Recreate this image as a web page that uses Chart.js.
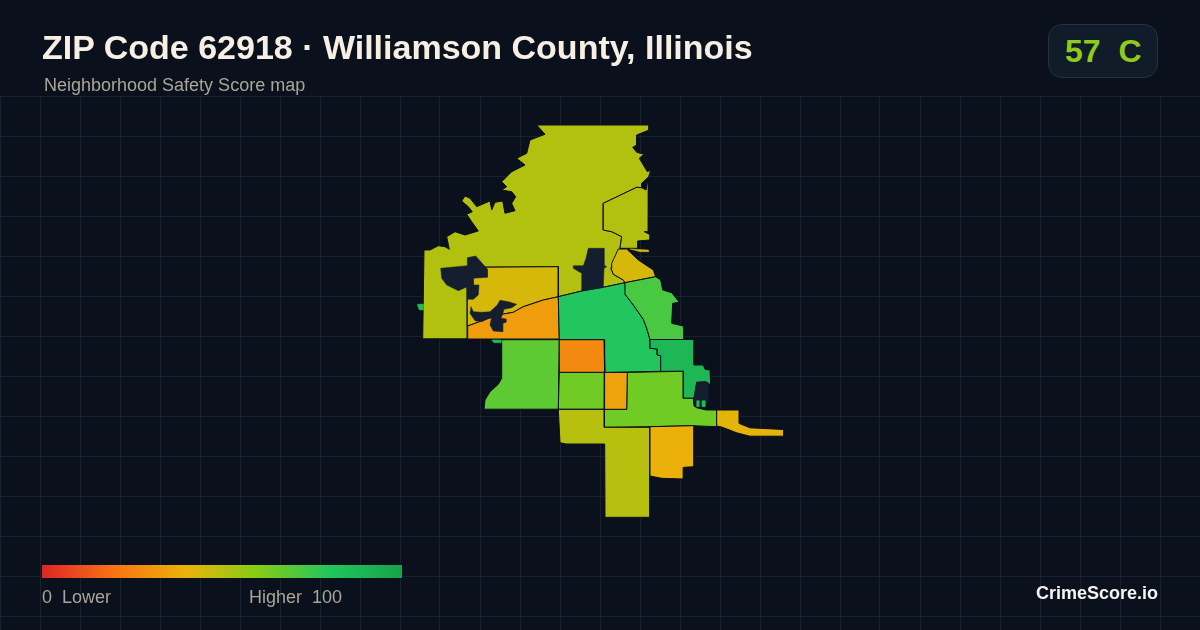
<!DOCTYPE html>
<html><head><meta charset="utf-8">
<script src="https://cdn.jsdelivr.net/npm/chart.js@4/dist/chart.umd.min.js"></script>
<style>
html,body{margin:0;padding:0;width:1200px;height:630px;overflow:hidden;background:#0a111c;font-family:"Liberation Sans",Arial,sans-serif}
#wrap{position:relative;width:1200px;height:630px}
canvas{position:absolute;left:0;top:0}
.t{position:absolute;white-space:pre;line-height:1}
#title{left:42px;top:30px;font-size:34px;font-weight:700;color:#f7efe3}
#sub{left:44px;top:76px;font-size:18px;color:#a9a598}
#badge{position:absolute;left:1048px;top:24px;width:110px;height:54px;box-sizing:border-box;background:#111c2a;border:1px solid #263242;border-radius:14px}
#grade{left:1065px;top:35px;font-size:32px;font-weight:700;color:#8ecb1a}
#bar{position:absolute;left:42px;top:565px;width:360px;height:13px}
#lo{left:42px;top:588px;font-size:18px;color:#a9a598}
#hi{left:249px;top:588px;font-size:18px;color:#a9a598}
#brand{right:42px;top:584px;font-size:18px;font-weight:700;color:#f5f5f5}
</style></head><body>
<div id="wrap">
<canvas id="c" width="1200" height="630"></canvas>
<div class="t" id="title">ZIP Code 62918 · Williamson County, Illinois</div>
<div class="t" id="sub">Neighborhood Safety Score map</div>
<div id="badge"></div><div class="t" id="grade">57  C</div>
<div id="bar"></div>
<div class="t" id="lo">0  Lower</div><div class="t" id="hi">Higher  100</div>
<div class="t" id="brand">CrimeScore.io</div>
</div>
<script>
const scoreStops=[0,20,40,60,80,100];
const scoreColors=['#dc2626','#f97316','#eab308','#84cc16','#22c55e','#16a34a'];
const noDataColor='#141e2e';
const outlineColor='#0a111c';
const gridColor='#16222e';
const gridColumns=[0,40,80,120,160,200,240,280,320,360,400,440,480,520,560,600,640,680,720,760,800,840,880,920,960,1000,1040,1080,1120,1160,1200];
const gridRows=[96,136,176,216,256,296,336,376,416,456,496,536,576,616];

const northWest=[[536.7,125],[649,125],[649,130],[636.7,135],[636.7,145],[632.7,147.3],[636.7,152.3],[644,154.3],[639.3,158.3],[643.3,165],[647.3,171.7],[650.7,170],[648.7,176.7],[641.7,183.3],[641.7,187.7],[636.7,187.3],[603.3,203.3],[603.3,230],[611.7,231.7],[621.7,236.7],[620,248.3],[611,268.3],[613.3,274.3],[623.3,280],[625,282.7],[603.3,287.3],[581.7,291],[558.3,296.7],[558.3,266.7],[467.3,267.3],[467.3,338.8],[422.7,338.8],[424,250],[430,250],[438.3,245.7],[445,246.7],[449.3,249.3],[446.7,236.7],[455,231.7],[465,235],[478.3,231],[471.7,221.7],[466.7,214.3],[472.3,211.7],[468.3,206.7],[461.7,201],[465,196],[470,198.3],[476.7,206.7],[490,201],[491.7,210],[495,202.3],[502.7,201],[505,213.3],[515,210.7],[511.7,203.3],[515.7,196.7],[511.7,191.7],[501.7,190],[506.7,186.7],[501.7,181.7],[511.7,171.7],[525,165],[516.7,158.3],[526.7,153.3],[530,140],[545,134.3]];
const northEast=[[636.7,187.3],[641.7,187.7],[646,190],[647.3,183.3],[648.7,181.7],[648.3,231.7],[644.3,231.7],[650.7,235],[650,240],[637.7,241],[637.7,248.3],[620,248.3],[621.7,236.7],[611.7,231.7],[603.3,230],[603.3,203.3]];
const ridgeTile=[[618.3,249],[626.7,249],[638.3,260],[653.3,270],[655.7,276.7],[625,282.7],[623.3,280],[613.3,274.3],[611,268.3],[611.7,263.3]];
const ridgeSliver=[[630,249],[648.3,250],[648.3,251.7],[640,251.7]];
const westBlock=[[467.3,267.3],[558.3,266.7],[558.3,296.7],[543.3,300],[523.3,306.7],[513.3,312.3],[503.3,314],[486.7,319],[467.7,326]];
const westOrange=[[467.7,326],[486.7,319],[503.3,314],[513.3,312.3],[523.3,306.7],[543.3,300],[558.3,296.7],[559.3,339],[467.3,339]];
const centerGreen=[[558.3,296.7],[581.7,291],[603.3,287.3],[625,282.7],[625.7,295],[633.3,305],[643.3,319.3],[646.7,328.3],[650,339.5],[650,348.3],[657.3,349],[657.3,355],[660.7,355.7],[660.7,371.3],[605,372.5],[604,339.7],[559.3,339.7]];
const eastGreen=[[625,282.7],[655.7,276.7],[660.7,280],[662.7,290],[671.7,292.7],[679.3,302.3],[672.7,303.3],[671.7,323.3],[683.3,326],[684,339.5],[650,339.5],[646.7,328.3],[643.3,319.3],[633.3,305],[625.7,295]];
const darkGreen=[[650,339.5],[694,339.5],[694,365],[703.3,365],[705,369.3],[710,370],[710.7,386.7],[708.7,383.3],[705.3,381.7],[696.7,382.3],[694,398.3],[683.3,398.3],[683.3,371.3],[660.7,371.3],[660.7,355.7],[657.3,355],[657.3,349],[650,348.3]];
const limeEast=[[627.3,372.4],[683.3,371.3],[683.3,398.3],[693.3,398.3],[694,406],[696.7,407.7],[706,410],[716.7,410],[716.7,426.7],[692.7,425.7],[650,426.7],[604.3,427.3],[604.3,409.3],[626.7,409.3]];
const leftGreen=[[501.7,339.7],[559.3,339.7],[558.3,409.2],[484,409.2],[485,400],[490,391.7],[498.3,384.3],[501.7,378.3]];
const orangeSquare=[[559.3,339.7],[604,339.7],[604.6,372.4],[559.3,372.4]];
const midSquare=[[559.3,372.4],[604.6,372.4],[604.3,409.2],[558.3,409.2]];
const orangeStrip=[[604.6,372.4],[627.3,372.4],[626.7,409.3],[604.3,409.3]];
const southTrunk=[[558.3,409.4],[604.3,409.4],[604.3,427.3],[649.5,427.3],[649.5,517.3],[605,517.3],[604.7,444],[566,444],[560,442.7]];
const southEast=[[650,426.7],[692.7,425.7],[694,426.7],[694,466.7],[684,467.3],[683.3,479],[661.7,478.3],[650,476]];
const eastTail=[[716.7,410],[739.3,410],[739.3,423.5],[750,427.8],[783.8,429.5],[783.8,436.2],[750,436.2],[736.7,432.8],[721.7,427],[716.7,426]];
const westFleck=[[417.3,304.3],[423,304],[423.3,310],[419,309.7]];
const southFleck=[[491.7,340],[501,340],[501,342.7],[494,342.7]];
const eastFleckA=[[696.7,400.7],[699,400.7],[699,406.7],[696.7,406.7]];
const eastFleckB=[[702,400.7],[705,400.7],[705,406.7],[702,406.7]];
const holeNorth=[[588.3,248.3],[604,248.3],[604,265],[606.7,266.7],[604,268.3],[603.3,287.3],[581.7,291],[581.7,273.3],[573.3,268.3],[573.3,265.7],[583.3,265.7],[586,258.3]];
const holeWest=[[440.7,268.3],[467.3,265.7],[467.3,257.7],[475.7,256],[487.3,269],[487.3,277.3],[473.3,278.3],[473.3,285],[479,285],[478.3,295],[473.3,299.3],[467.7,299.3],[467.3,286.7],[458.3,290.7],[446.7,285],[441.7,278.3]];
const holeStar=[[471,306.7],[473.3,311.7],[481.7,312.3],[490,311.7],[497.3,305],[500,300.3],[508.3,301.7],[516.7,304.3],[511.7,307.7],[504,309.3],[502.7,314],[501,318.3],[506,319],[506,322.3],[502.7,323.3],[502.7,331.7],[493.3,331],[490,325],[491.7,316.7],[481.7,321.7],[475,320.7],[470,313.3]];
const holeEast=[[696.7,382.3],[705.3,381.7],[708.7,383.3],[708,402],[702,407],[696,407],[694,398.3]];

const regionShapes=[northWest,northEast,ridgeTile,ridgeSliver,westBlock,westOrange,centerGreen,eastGreen,darkGreen,limeEast,leftGreen,orangeSquare,midSquare,orangeStrip,southTrunk,southEast,eastTail,westFleck,southFleck,holeNorth,holeWest,holeStar,holeEast,eastFleckA,eastFleckB];
const regionScores=[51,51,44,44,44,33,80,72,88,64,68,27,64,35,50,39,41,85,85,null,null,null,null,85,85];
const unoutlinedShapes=[ridgeSliver,westFleck,southFleck,eastFleckA,eastFleckB,holeNorth,holeWest,holeStar,holeEast];

function hex(c){return [1,3,5].map(i=>parseInt(c.substr(i,2),16));}
function scoreColor(s){
  if(s===null) return noDataColor;
  for(let i=1;i<scoreStops.length;i++){
    if(s<=scoreStops[i]){
      const t=(s-scoreStops[i-1])/(scoreStops[i]-scoreStops[i-1]);
      const a=hex(scoreColors[i-1]),b=hex(scoreColors[i]);
      return 'rgb('+a.map((v,k)=>Math.round(v+(b[k]-v)*t)).join(',')+')';
    }
  }
  return scoreColors[scoreColors.length-1];
}
document.getElementById('bar').style.background='linear-gradient(90deg,'+scoreColors.join(',')+')';

new Chart(document.getElementById('c'),{
  type:'scatter',
  data:{datasets:regionShapes.map((shape,i)=>({
    data:shape.concat([shape[0]]).map(p=>({x:p[0],y:p[1]})),
    showLine:true,fill:'shape',tension:0,pointRadius:0,pointHoverRadius:0,
    backgroundColor:scoreColor(regionScores[i]),
    borderColor:unoutlinedShapes.includes(shape)?scoreColor(regionScores[i]):outlineColor,
    borderWidth:unoutlinedShapes.includes(shape)?0.5:1,clip:false,order:regionShapes.length-i
  }))},
  options:{
    responsive:false,animation:false,devicePixelRatio:1,
    layout:{padding:{top:96,left:0,right:0,bottom:0}},
    plugins:{legend:{display:false},tooltip:{enabled:false},title:{display:false}},
    events:[],
    scales:{
      x:{type:'linear',min:0,max:1200,afterBuildTicks:s=>{s.ticks=gridColumns.map(v=>({value:v}));},
         ticks:{display:false},border:{display:false},grid:{color:gridColor,lineWidth:1,drawTicks:false}},
      y:{type:'linear',min:96,max:630,reverse:true,afterBuildTicks:s=>{s.ticks=gridRows.map(v=>({value:v}));},
         ticks:{display:false},border:{display:false},grid:{color:gridColor,lineWidth:1,drawTicks:false}}
    }
  }
});
</script>
</body></html>
